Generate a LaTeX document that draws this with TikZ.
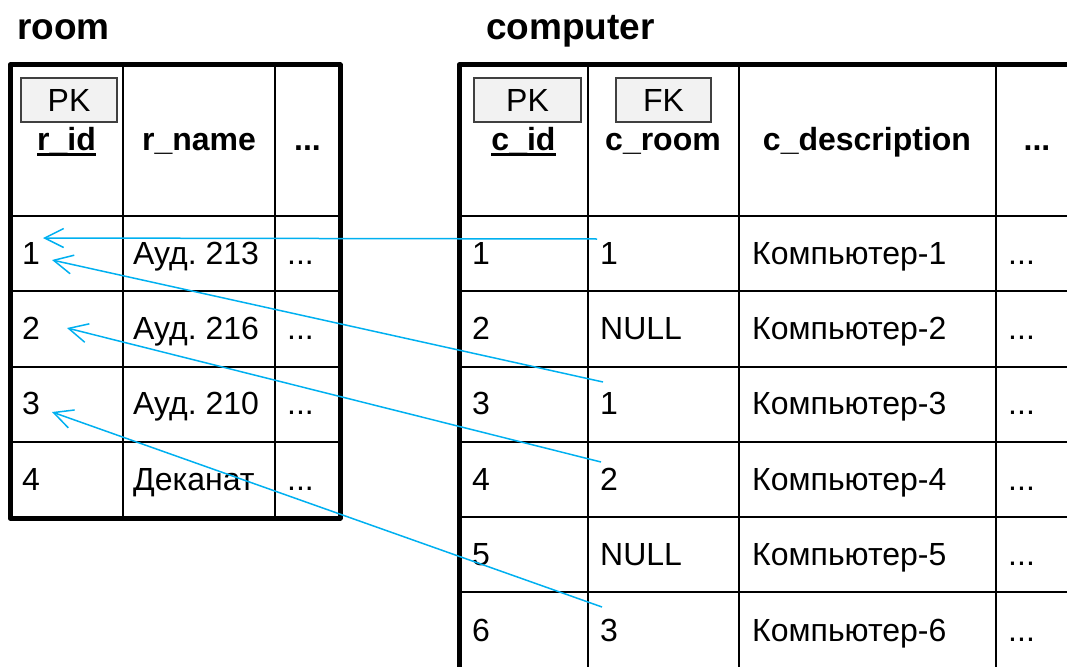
\documentclass[tikz,border=0pt]{standalone}
\usepackage{fontspec}
\setmainfont{Liberation Sans}
\usepackage{tikz}
\usetikzlibrary{arrows.meta}
\definecolor{LinkBlue}{HTML}{00B0F0}
\definecolor{KeyFill}{HTML}{F2F2F2}
\definecolor{KeyRule}{HTML}{404040}
\newcommand\cellfont{\fontsize{32}{38}\selectfont}
\newcommand\titlefont{\fontsize{37}{44}\selectfont\bfseries}
\newcommand\keyline[1]{\setbox0\hbox{#1}\rlap{\rule[-5.5pt]{\wd0}{3pt}}\box0}
\frenchspacing

\begin{document}
\begin{tikzpicture}[x=1pt,y=-1pt,
  frame/.style={line width=5pt,line join=round},
  grid/.style={line width=2pt},
  title/.style={anchor=base west,inner sep=0pt,font=\titlefont},
  head/.style={anchor=base,inner sep=0pt,font=\cellfont\bfseries},
  cell/.style={anchor=base west,inner sep=0pt,font=\cellfont},
  keybox/.style={draw=KeyRule,line width=1.5pt,fill=KeyFill,minimum height=44pt,inner sep=0pt,font=\cellfont},
  link/.style={-{Straight Barb[length=19pt,width=19pt]},line width=1.5pt,color=LinkBlue}
]
\useasboundingbox (0,0) rectangle (1067,666);
\clip (0,0) rectangle (1067,666);

% table titles
\node[title] (roomtitle) at (17,40) {room};
\node[title] (comptitle) at (486,40) {computer};

% room table
\draw[grid] (123,65) -- (123,518) (275,65) -- (275,518);
\draw[grid] (10,216) -- (340,216) (10,291) -- (340,291) (10,367) -- (340,367) (10,442) -- (340,442);
\draw[frame] (10,65) rectangle (340,518);
\node[keybox,minimum width=96pt] (rpk) at (69,100) {PK};
\node[head] (rid) at (66.5,150) {\keyline{r\_id}};
\node[head] (rname) at (199,150) {r\_name};
\node[head] (rmore) at (307.5,150) {...};
\node[cell] (r1) at (22,264) {1};
\node[cell] (r1n) at (133,264) {Ауд. 213};
\node[cell] (r1m) at (287,264) {...};
\node[cell] (r2) at (22,339) {2};
\node[cell] (r2n) at (133,339) {Ауд. 216};
\node[cell] (r2m) at (287,339) {...};
\node[cell] (r3) at (22,414) {3};
\node[cell] (r3n) at (133,414) {Ауд. 210};
\node[cell] (r3m) at (287,414) {...};
\node[cell] (r4) at (22,490) {4};
\node[cell] (r4n) at (133,490) {Деканат};
\node[cell] (r4m) at (287,490) {...};

% computer table
\draw[grid] (588,65) -- (588,672) (739,65) -- (739,672) (996,65) -- (996,672);
\draw[grid] (459,216) -- (1080,216) (459,291) -- (1080,291) (459,367) -- (1080,367)
  (459,442) -- (1080,442) (459,517) -- (1080,517) (459,592) -- (1080,592);
\draw[frame] (459,65) rectangle (1080,672);
\node[keybox,minimum width=107pt] (cpk) at (527.5,100) {PK};
\node[keybox,minimum width=95pt] (cfk) at (663.5,100) {FK};
\node[head] (cid) at (523.5,150) {\keyline{c\_id}};
\node[head] (croom) at (663,150) {c\_room};
\node[head] (cdesc) at (867,150) {c\_description};
\node[head] (cmore) at (1037,150) {...};
\node[cell] (c1) at (472,264) {1};
\node[cell] (c1r) at (600,264) {1};
\node[cell] (c1d) at (752,264) {Компьютер-1};
\node[cell] (c1m) at (1008,264) {...};
\node[cell] (c2) at (472,339) {2};
\node[cell] (c2r) at (600,339) {NULL};
\node[cell] (c2d) at (752,339) {Компьютер-2};
\node[cell] (c2m) at (1008,339) {...};
\node[cell] (c3) at (472,414) {3};
\node[cell] (c3r) at (600,414) {1};
\node[cell] (c3d) at (752,414) {Компьютер-3};
\node[cell] (c3m) at (1008,414) {...};
\node[cell] (c4) at (472,490) {4};
\node[cell] (c4r) at (600,490) {2};
\node[cell] (c4d) at (752,490) {Компьютер-4};
\node[cell] (c4m) at (1008,490) {...};
\node[cell] (c5) at (472,565) {5};
\node[cell] (c5r) at (600,565) {NULL};
\node[cell] (c5d) at (752,565) {Компьютер-5};
\node[cell] (c5m) at (1008,565) {...};
\node[cell] (c6) at (472,641) {6};
\node[cell] (c6r) at (600,641) {3};
\node[cell] (c6d) at (752,641) {Компьютер-6};
\node[cell] (c6m) at (1008,641) {...};

% foreign key links
\coordinate (fk1) at (597,239);
\coordinate (fk3) at (603,382);
\coordinate (fk4) at (601,462);
\coordinate (fk6) at (602,607);
\coordinate (pk1a) at (43,238);
\coordinate (pk1b) at (52,260);
\coordinate (pk2) at (67,328);
\coordinate (pk3) at (52,412);
\draw[link] (fk1) -- (pk1a);
\draw[link] (fk3) -- (pk1b);
\draw[link] (fk4) -- (pk2);
\draw[link] (fk6) -- (pk3);
\end{tikzpicture}
\end{document}
